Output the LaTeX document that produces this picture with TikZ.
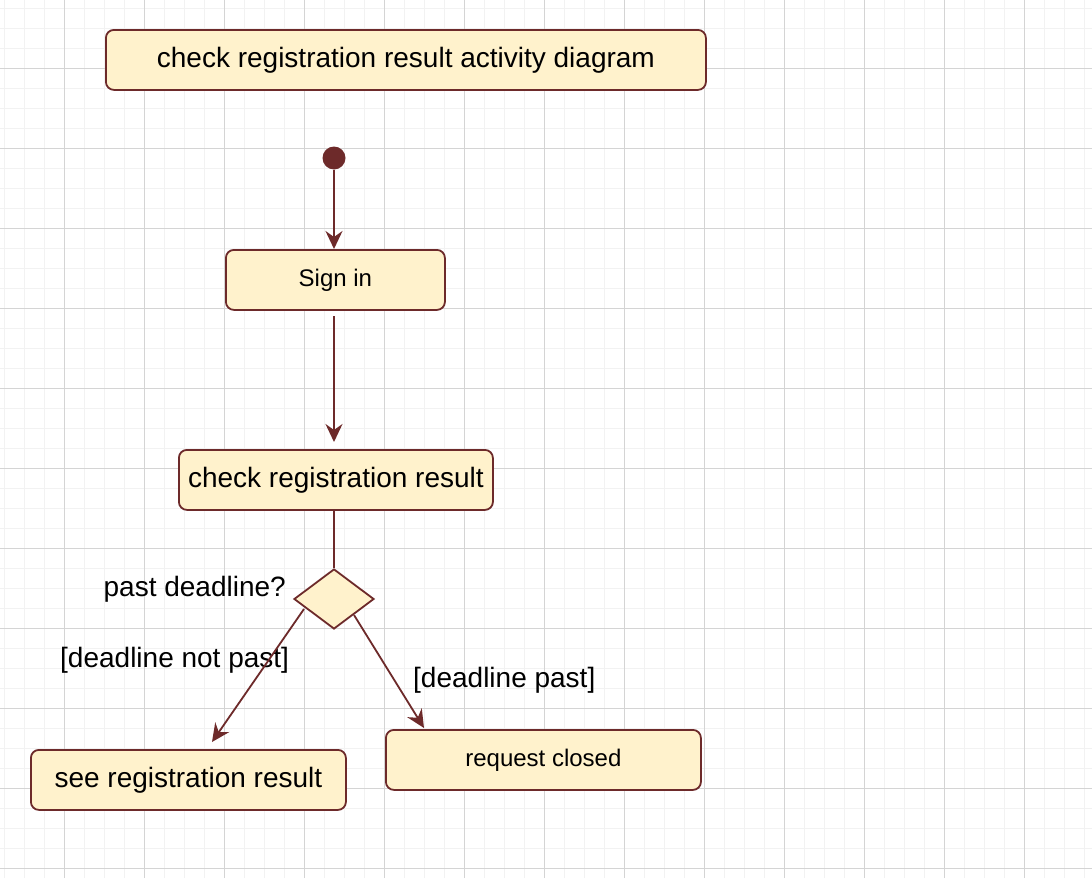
\documentclass[tikz,border=0pt]{standalone}
\usepackage{fontspec}
\setmainfont{Liberation Sans}
\usetikzlibrary{arrows.meta,shapes.geometric}
\definecolor{dred}{HTML}{6D2A2A}
\definecolor{bfill}{HTML}{FFF2CC}
\definecolor{gminor}{HTML}{F2F2F2}
\definecolor{gmajor}{HTML}{D4D4D4}
\tikzset{
  x=1pt,y=-1pt,
  actbox/.style={draw=dred,fill=bfill,line width=1.8pt,rounded corners=8pt,inner sep=0pt,anchor=north west},
  bigtxt/.style={font=\fontsize{28}{32}\selectfont},
  smalltxt/.style={font=\fontsize{24}{28}\selectfont},
  conn/.style={draw=dred,line width=1.8pt},
  arr/.style={conn,-{Stealth[length=18pt,width=17pt,inset=6pt]}},
  lbl/.style={font=\fontsize{28}{32}\selectfont,inner sep=0pt}
}
\begin{document}
\begin{tikzpicture}
\useasboundingbox (0,0) rectangle (1092,878);
\fill[white] (0,0) rectangle (1092,878);
% grid
\foreach \i in {0,...,54} {\draw[gminor,line width=1pt] ({4+20*\i},0) -- ({4+20*\i},878);}
\foreach \i in {0,...,43} {\draw[gminor,line width=1pt] (0,{8+20*\i}) -- (1092,{8+20*\i});}
\foreach \i in {0,...,13} {\draw[gmajor,line width=1pt] ({64+80*\i},0) -- ({64+80*\i},878);}
\foreach \i in {0,...,10} {\draw[gmajor,line width=1pt] (0,{68+80*\i}) -- (1092,{68+80*\i});}
% nodes
\node[actbox,minimum width=600pt,minimum height=60pt,bigtxt] (title) at (105,29) {check registration result activity diagram};
\node[circle,fill=dred,minimum size=23pt,inner sep=0pt] (start) at (334,158) {};
\node[actbox,minimum width=219pt,minimum height=60pt,smalltxt] (signin) at (225,249) {Sign in};
\node[actbox,minimum width=314pt,minimum height=60pt,bigtxt] (check) at (178,449) {check registration result};
\node[diamond,draw=dred,fill=bfill,line width=1.8pt,minimum width=80pt,minimum height=60pt,inner sep=0pt,aspect=1.33] (dec) at (334,599) {};
\node[actbox,minimum width=315pt,minimum height=60pt,bigtxt] (see) at (30,749) {see registration result};
\node[actbox,minimum width=315pt,minimum height=60pt,smalltxt] (closed) at (385,729) {request closed};
% labels
\node[lbl,anchor=east] (qlbl) at (286,589) {past deadline?};
\node[lbl,anchor=west] (nplbl) at (60,660) {[deadline not past]};
\node[lbl,anchor=west] (plbl) at (413,680) {[deadline past]};
% connectors
\coordinate (s1) at (334,316);
\coordinate (s2) at (334,442);
\coordinate (l0) at (304,609);
\coordinate (l1) at (212,742);
\coordinate (r0) at (354,615);
\coordinate (r1) at (424,728);
\draw[arr] (start.south) -- (signin.north -| start);
\draw[arr] (s1) -- (s2);
\draw[conn] (check.south -| dec) -- (dec.north);
\draw[arr] (l0) -- (l1);
\draw[arr] (r0) -- (r1);
\end{tikzpicture}
\end{document}
